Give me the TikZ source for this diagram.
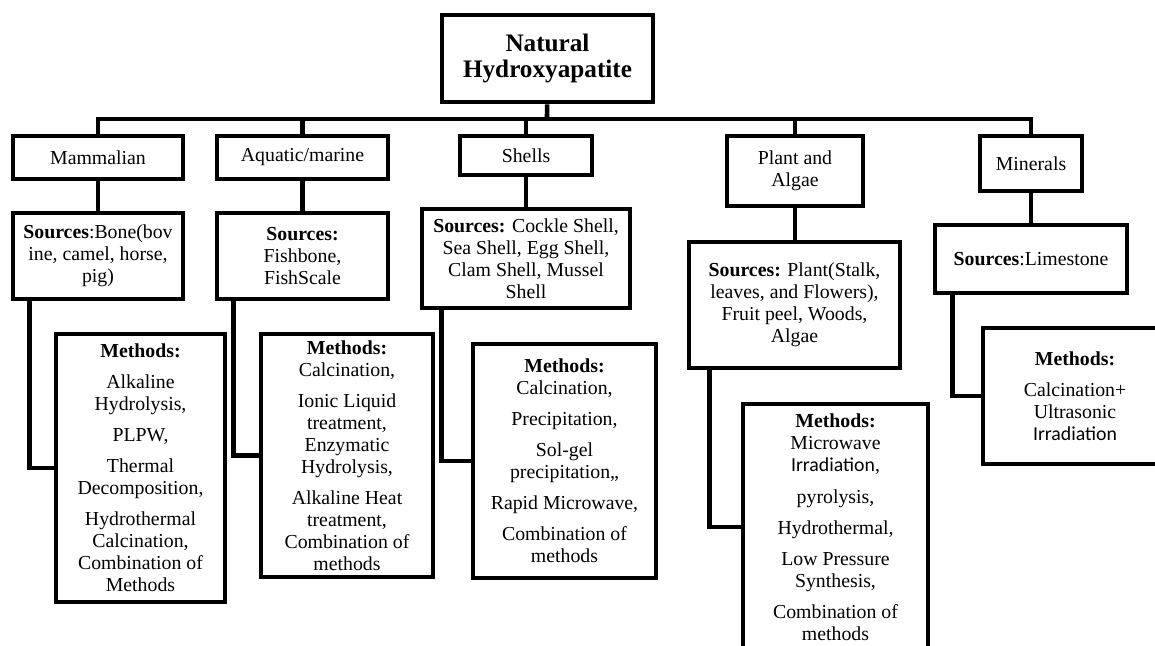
\documentclass[tikz,border=0pt]{standalone}
\usepackage{fontspec}
\setmainfont{Liberation Serif}
\newfontfamily\calibrifont{Carlito}

\begin{document}
\begin{tikzpicture}[x=0.5pt,y=-0.5pt,line width=2.3pt,
			box/.style={draw,inner sep=0pt,align=center,
				font=\fontsize{9.9}{11}\selectfont},
			root box/.style={box,font=\bfseries\fontsize{12.6}{13.2}\selectfont}]
			
			\useasboundingbox[fill=white] (0,0) rectangle (1155,646);
			
			\node[root box,minimum width=105.5pt,minimum height=43.5pt] (root) at (547.5,58.5) {Natural\\Hydroxyapatite};
			
			\node[box,minimum width=85pt,minimum height=21.5pt] (mam) at (98,157.5) {Mammalian};
			\node[box,minimum width=85.5pt,minimum height=21.5pt] (aqu) at (302.5,157.5) {Aquatic/marine};
			\node[box,minimum width=66pt,minimum height=19.5pt] (shl) at (526,155.5) {Shells};
			\node[box,minimum width=68pt,minimum height=35pt] (pla) at (795,171) {Plant and\\Algae};
			\node[box,minimum width=51pt,minimum height=27.5pt] (min) at (1031,163.5) {Minerals};
			
			\node[box,minimum width=85pt,minimum height=43pt] (mamS) at (98,256) {\textbf{Sources}:Bone(bov\\ine, camel, horse,\\pig)};
			\node[box,minimum width=85.5pt,minimum height=43pt] (aquS) at (302.5,256) {\textbf{Sources:}\\Fishbone,\\FishScale};
			\node[box,minimum width=104pt,minimum height=49.5pt] (shlS) at (526,258.5) {\textbf{Sources:} Cockle Shell,\\Sea Shell, Egg Shell,\\Clam Shell, Mussel\\Shell};
			\node[box,minimum width=105.5pt,minimum height=63pt] (plaS) at (794.5,305) {\textbf{Sources:} Plant(Stalk,\\leaves, and Flowers),\\Fruit peel, Woods,\\Algae};
			\node[box,minimum width=96pt,minimum height=34pt] (minS) at (1031,259) {\textbf{Sources}:Limestone};
			
			\node[box,minimum width=84.5pt,minimum height=134pt] (mamM) at (140.5,468) {\textbf{Methods:}\\[4.5pt]Alkaline\\Hydrolysis,\\[4.5pt]PLPW,\\[4.5pt]Thermal\\Decomposition,\\[4.5pt]Hydrothermal\\Calcination,\\Combination of\\Methods};
			\node[box,minimum width=86pt,minimum height=121.5pt] (aquM) at (347,455.5) {\textbf{Methods:}\\Calcination,\\[4.5pt]Ionic Liquid\\treatment,\\Enzymatic\\Hydrolysis,\\[4.5pt]Alkaline Heat\\treatment,\\Combination of\\methods};
			\node[box,minimum width=91.5pt,minimum height=117pt] (shlM) at (564.5,461) {\textbf{Methods:}\\Calcination,\\[4.5pt]Precipitation,\\[4.5pt]Sol-gel\\precipitation,,\\[4.5pt]Rapid Microwave,\\[4.5pt]Combination of\\methods};
			\node[box,minimum width=92.5pt,minimum height=123pt] (plaM) at (835.5,527) {\textbf{Methods:}\\Microwave\\{\calibrifont Irradiation},\\[5pt]pyrolysis,\\[4.5pt]Hydrothermal,\\[4.5pt]Low Pressure\\Synthesis,\\[4.5pt]Combination of\\methods};
			\node[box,minimum width=92pt,minimum height=68pt] (minM) at (1075,396) {\textbf{Methods:}\\[4.5pt]Calcination+\\Ultrasonic\\{\calibrifont Irradiation}};
			
			% tree lines
			\coordinate (bus) at (547,119);
			\draw (root) -- (bus);
			\foreach \n in {mam,aqu,shl,pla,min}
				\draw (\n.north) |- (bus);
			\foreach \n/\s in {mam/mamS,aqu/aquS,shl/shlS,pla/plaS,min/minS}
				\draw (\n.south) -- (\n.south |- \s.north);
			\foreach \s/\m/\d in {mamS/mamM/19,aquS/aquM/19,shlS/shlM/22,plaS/plaM/23,minS/minM/20}
				\draw (\s.south west) ++(\d,0) |- (\m.west);
		\end{tikzpicture}
\end{document}
